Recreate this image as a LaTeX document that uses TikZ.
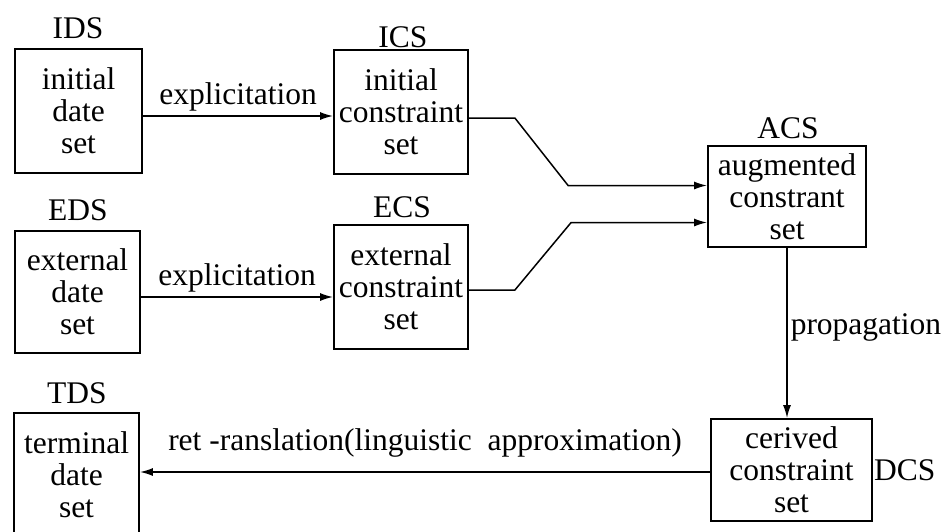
\documentclass[tikz,border=0pt]{standalone}
\usepackage{fontspec}
\setmainfont{Liberation Serif}
\usetikzlibrary{arrows.meta}

\begin{document}
\begin{tikzpicture}[x=1pt, y=-1pt, font=\fontsize{31.5}{32}\selectfont,
    setbox/.style={draw, line width=1.8pt, align=center, inner sep=0pt},
    setname/.style={anchor=base, inner sep=0pt},
    flow/.style={line width=1.5pt, -{Latex[length=13pt, width=8pt]}},
    flowlabel/.style={inner sep=1pt}]
    \useasboundingbox (0,0) rectangle (943,531);
    \clip (0,0) rectangle (943,531);

    % Data sets (left column)
    \node[setbox, minimum width=127pt, minimum height=124pt] (ids) at (78.5,111) {initial\\date\\set};
    \node[setbox, minimum width=125pt, minimum height=122pt] (eds) at (77.5,292) {external\\date\\set};
    \node[setbox, minimum width=125pt, minimum height=124pt] (tds) at (76.5,475) {terminal\\date\\set};

    % Constraint sets
    \node[setbox, minimum width=134pt, minimum height=124pt] (ics) at (401,112) {initial\\constraint\\set};
    \node[setbox, minimum width=134pt, minimum height=124pt] (ecs) at (401,287) {external\\constraint\\set};
    \node[setbox, minimum width=158pt, minimum height=101pt] (acs) at (787,196.5) {augmented\\constrant\\set};
    \node[setbox, minimum width=161pt, minimum height=102pt] (dcs) at (791.5,470) {cerived\\constraint\\set};

    % Set names
    \node[setname] (idsname) at (78,38) {IDS};
    \node[setname] (icsname) at (403,47) {ICS};
    \node[setname] (edsname) at (78,220) {EDS};
    \node[setname] (ecsname) at (402,217) {ECS};
    \node[setname] (acsname) at (788,138) {ACS};
    \node[setname] (tdsname) at (77,403) {TDS};
    \node[setname, anchor=base west] (dcsname) at (874,480) {DCS};

    % Explicitation
    \draw[flow] ([yshift=-5pt]ids.east) coordinate (idsout) -- (idsout -| ics.west)
        node[midway, above=3pt, flowlabel] {explicitation};
    \draw[flow] ([yshift=-5pt]eds.east) coordinate (edsout) -- (edsout -| ecs.west)
        node[midway, above=3pt, flowlabel] {explicitation};

    % Merge into ACS
    \coordinate (acsup) at ([yshift=11pt]acs.west);
    \coordinate (acslow) at ([yshift=-26pt]acs.west);
    \draw[flow] ([yshift=-6pt]ics.east) -- ++(46,0) -- ([xshift=-139pt]acsup) -- (acsup);
    \draw[flow] ([yshift=-3pt]ecs.east) -- ++(46,0) -- ([xshift=-136pt]acslow) -- (acslow);

    % Propagation
    \draw[flow] (acs.south) -- (acs.south |- dcs.north)
        node[pos=0.47, right=2pt, flowlabel] {propagation};

    % Re-translation
    \draw[flow] ([yshift=-2pt]dcs.west) coordinate (dcsout) -- (dcsout -| tds.east)
        node[midway, above=13pt, flowlabel] {ret -ranslation(linguistic\ \ approximation)};

\end{tikzpicture}
\end{document}
